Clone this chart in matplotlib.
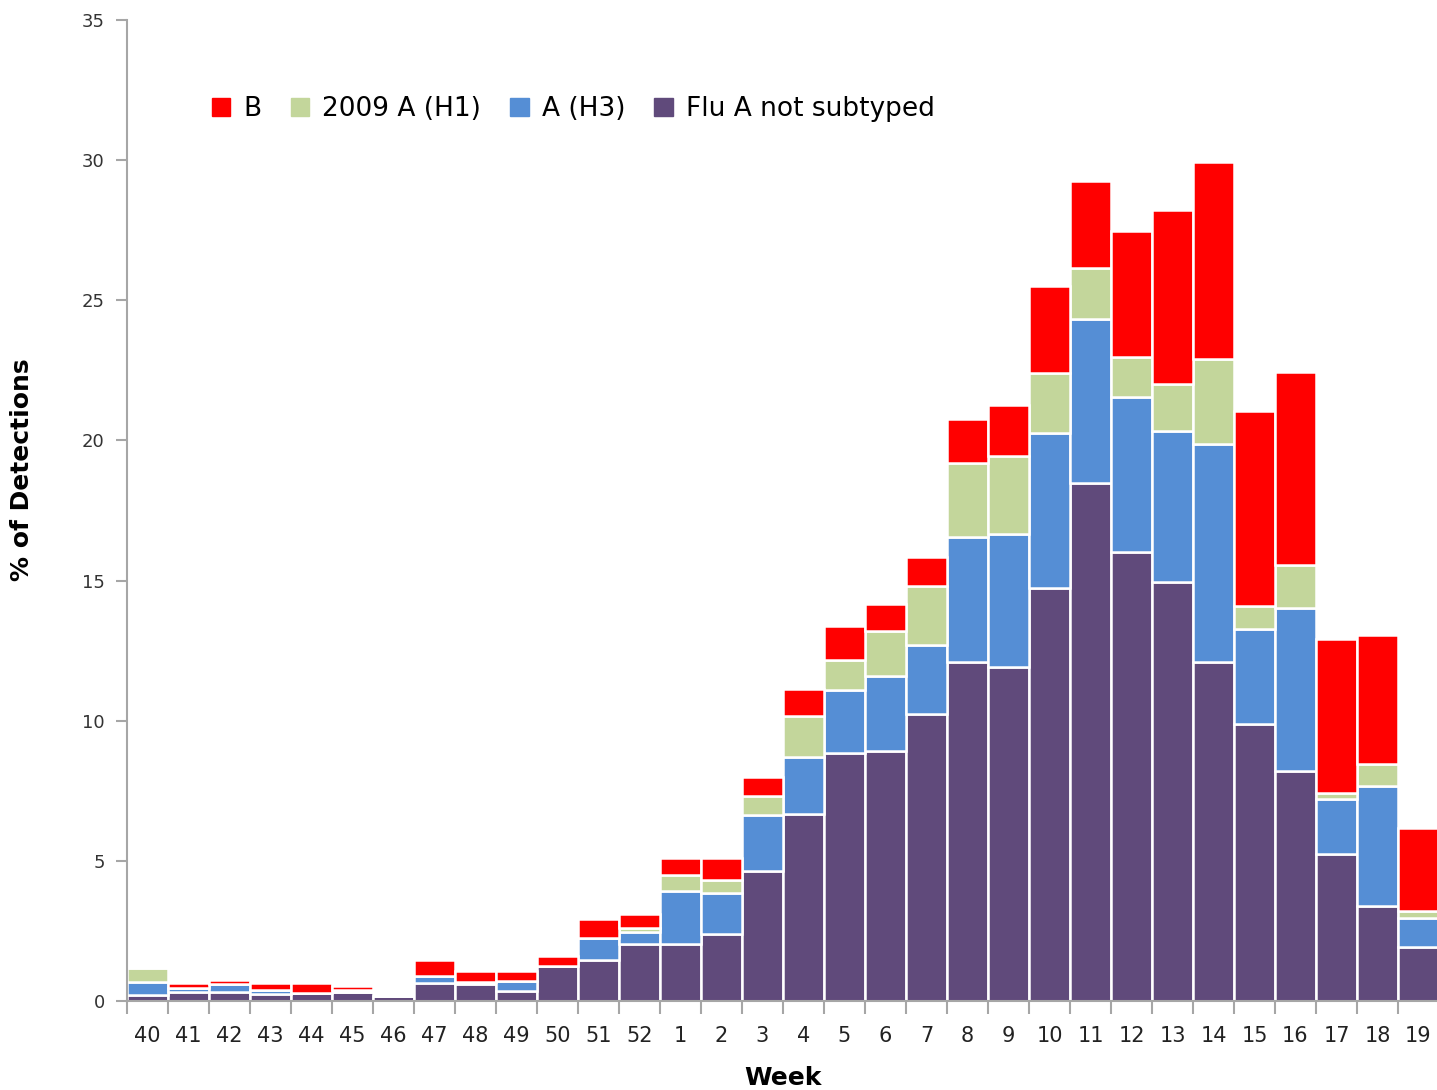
import numpy as np
import matplotlib.pyplot as plt
from matplotlib.patches import Patch

weeks = ['40', '41', '42', '43', '44', '45', '46', '47', '48', '49', '50', '51', '52',
         '1', '2', '3', '4', '5', '6', '7', '8', '9', '10', '11', '12', '13', '14',
         '15', '16', '17', '18', '19']

# stacked series (% of detections)
flu_a_nst = [0.21, 0.31, 0.31, 0.26, 0.30, 0.31, 0.17, 0.64, 0.61, 0.35, 1.26, 1.48, 2.03,
             2.03, 2.39, 4.63, 6.67, 8.85, 8.92, 10.24, 12.09, 11.92, 14.73, 18.48, 16.02,
             14.95, 12.09, 9.88, 8.21, 5.24, 3.39, 1.92]
a_h3 = [0.48, 0.16, 0.30, 0.12, 0.0, 0.0, 0.0, 0.26, 0.08, 0.37, 0.0, 0.77, 0.43,
        1.91, 1.46, 2.01, 2.03, 2.25, 2.67, 2.46, 4.46, 4.74, 5.53, 5.85, 5.53,
        5.39, 7.78, 3.39, 5.81, 1.96, 4.28, 1.03]
a_h1_2009 = [0.48, 0.0, 0.0, 0.0, 0.0, 0.07, 0.0, 0.0, 0.0, 0.0, 0.0, 0.0, 0.13,
             0.56, 0.48, 0.67, 1.47, 1.07, 1.61, 2.11, 2.64, 2.78, 2.14, 1.82, 1.43,
             1.67, 3.03, 0.82, 1.54, 0.21, 0.77, 0.25]
flu_b = [0.0, 0.17, 0.13, 0.26, 0.34, 0.14, 0.0, 0.56, 0.39, 0.36, 0.34, 0.66, 0.52,
         0.61, 0.78, 0.68, 0.96, 1.21, 0.96, 1.03, 1.57, 1.82, 3.11, 3.10, 4.49,
         6.21, 7.03, 6.96, 6.88, 5.50, 4.62, 2.98]

series = [
    ('Flu A not subtyped', flu_a_nst, '#604A7B'),
    ('A (H3)', a_h3, '#558ED5'),
    ('2009 A (H1)', a_h1_2009, '#C3D69B'),
    ('B', flu_b, '#FF0000'),
]

fig = plt.figure(figsize=(14.37, 10.9), dpi=100)
ax = fig.add_axes([127 / 1437, 89 / 1090, 1312 / 1437, 981 / 1090])

x = np.arange(len(weeks))
bottom = np.zeros(len(weeks))
for name, vals, col in series:
    vals = np.array(vals)
    ax.bar(x, vals, width=1.0, bottom=bottom, color=col, edgecolor='white',
           linewidth=1.8, label=name)
    bottom += vals

ax.set_xlim(-0.5, len(weeks) - 0.5)
ax.set_ylim(0, 35)
ax.set_yticks(np.arange(0, 36, 5))
ax.set_xticks(x)
ax.set_xticklabels(weeks)
ax.set_xticks(np.arange(-0.5, len(weeks), 1), minor=True)
ax.tick_params(axis='x', which='major', length=0, pad=18, labelsize=15, labelcolor='#222222')
ax.tick_params(axis='x', which='minor', length=9, width=1.5, color='#A6A6A6')
ax.tick_params(axis='y', length=8, width=1.5, color='#A6A6A6', labelsize=13,
               labelcolor='#333333', pad=8)

for s in ['top', 'right']:
    ax.spines[s].set_visible(False)
for s in ['left', 'bottom']:
    ax.spines[s].set_color('#A6A6A6')
    ax.spines[s].set_linewidth(1.5)

ax.set_ylabel('% of Detections', fontsize=18, fontweight='bold', va='center')
ax.yaxis.set_label_coords(-0.080, 0.542)
ax.set_xlabel('Week', fontsize=18, fontweight='bold', va='center')
ax.xaxis.set_label_coords(0.5, -0.078)

handles = [Patch(color=c, label=n) for n, v, c in series[::-1]]
fig.legend(handles=handles, loc='center left', bbox_to_anchor=(188 / 1437, 1 - 109 / 1090),
           ncol=4, frameon=False, fontsize=19, handlelength=0.7, handleheight=0.7,
           handletextpad=0.5, columnspacing=1.1)

fig.savefig('out.png', dpi=100)
